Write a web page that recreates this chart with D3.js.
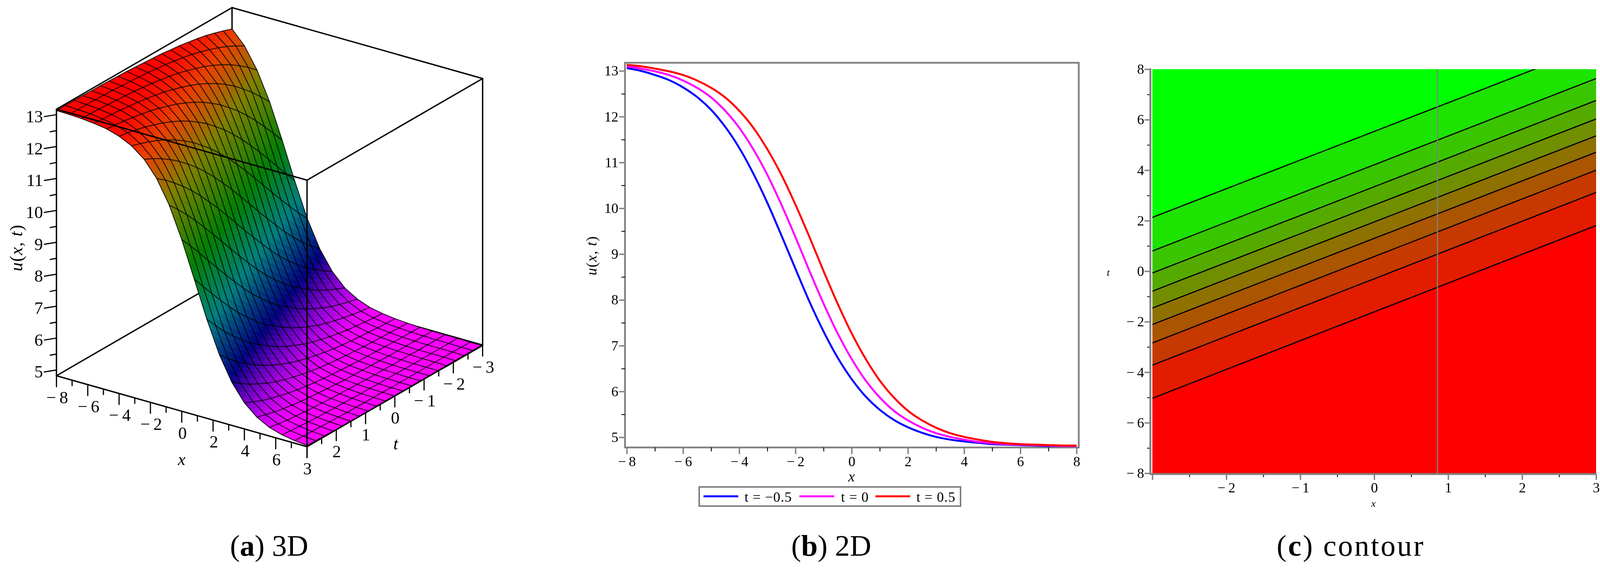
<!DOCTYPE html>
<html>
<head>
<meta charset="utf-8">
<script src="https://d3js.org/d3.v7.min.js"></script>
<style>
    html, body { margin: 0; padding: 0; background: #fff; }
    svg { display: block; filter: blur(0.6px); }
    text { font-family: "Liberation Serif", serif; fill: #000; }
    .axis text { font-family: "Liberation Serif", serif; fill: #000; }
    .i { font-style: italic; }
    .up { font-style: normal; }
</style>
</head>
<body>
<svg id="fig" width="4113" height="1456"></svg>
<script>
// --- panel a: surface, one profile read along x, each t row is the same profile moved along
var gridX = [-8,-7.2,-6.4,-5.6,-4.8,-4,-3.2,-2.4,-1.6,-0.8,0,0.8,1.6,2.4,3.2,4,4.8,5.6,6.4,7.2,8];
var gridT = [-3,-2.7,-2.4,-2.1,-1.8,-1.5,-1.2,-0.9,-0.6,-0.3,0,0.3,0.6,0.9,1.2,1.5,1.8,2.1,2.4,2.7,3];
var surfaceProfile = [
    13.13,13.13,13.13,13.12,13.11,13.11,13.10,13.09,13.08,13.06,
    13.04,13.02,13.00,12.96,12.93,12.88,12.83,12.77,12.69,12.60,
    12.50,12.38,12.24,12.08,11.89,11.68,11.43,11.17,10.87,10.55,
    10.20,9.84,9.46,9.07,8.68,8.30,7.93,7.57,7.23,6.93,
    6.65,6.39,6.17,5.97,5.79,5.64,5.51,5.39,5.30,5.22,
    5.15,5.09,5.04,5.00,4.97,4.94,4.92,4.90,4.88,4.87,
    4.86,4.85,4.84,4.83,4.83,4.82,4.82,4.82,4.81,4.81,
    4.81,4.81,4.81,4.81,4.81,4.81,4.80,4.80,4.80,4.80,4.80];
var surfaceColorU = [4.8,5.0,5.5,6.3,7.8,9.4,11.3,12.4,13.0];
var surfaceColors = ["#ff00ff","#f000ff","#9000d8","#000080","#008080","#008000","#808000","#e84000","#ff0000"];
var xMajor3d = [-8,-6,-4,-2,0,2,4,6,8];
var xMinor3d = [-7,-5,-3,-1,1,3,5,7];
var xLabels3d = [-8,-6,-4,-2,0,2,4,6];
var tMajor3d = [-3,-2,-1,0,1,2,3];
var tMinor3d = [-2.5,-1.5,-0.5,0.5,1.5,2.5];
var uMajor3d = [5,6,7,8,9,10,11,12,13];
var uMinor3d = [5.5,6.5,7.5,8.5,9.5,10.5,11.5,12.5];

var curveX = [-8,-7.5,-7,-6.5,-6,-5.5,-5,-4.5,-4,-3.5,-3,-2.5,-2,-1.5,-1,-0.5,0,0.5,1,1.5,2,2.5,3,3.5,4,4.5,5,5.5,6,6.5,7,7.5,8];
var uBlue = [13.06,13.00,12.91,12.80,12.64,12.43,12.15,11.78,11.32,10.76,10.12,9.41,8.68,7.96,7.31,6.74,
    6.27,5.89,5.60,5.38,5.22,5.10,5.01,4.95,4.91,4.88,4.85,4.84,4.83,4.82,4.81,4.81,4.81];
var uMagenta = [13.10,13.05,12.99,12.91,12.79,12.63,12.42,12.13,11.76,11.29,10.73,10.08,9.37,8.63,7.92,7.27,
    6.71,6.24,5.87,5.58,5.37,5.21,5.09,5.01,4.95,4.90,4.87,4.85,4.84,4.83,4.82,4.81,4.81];
var uRed = [13.13,13.10,13.05,12.99,12.91,12.79,12.63,12.42,12.13,11.76,11.29,10.73,10.08,9.37,8.63,7.92,
    7.27,6.71,6.24,5.87,5.58,5.37,5.21,5.09,5.01,4.95,4.90,4.87,4.85,4.84,4.83,4.82,4.82];
var curveColors = ["#0000ff","#ff00ff","#ff0000"];
var curveNames = ["t = \u22120.5","t = 0","t = 0.5"];
var xMajor2d = [-8,-6,-4,-2,0,2,4,6,8];
var xMinor2d = [-7,-5,-3,-1,1,3,5,7];
var uMajor2d = [5,6,7,8,9,10,11,12,13];
var uMinor2d = [5.5,6.5,7.5,8.5,9.5,10.5,11.5,12.5];

// --- panel c: contour lines, t where each one meets x=-3 and x=3
var contourLeft = [2.13,0.80,-0.07,-0.79,-1.46,-2.11,-2.84,-3.72,-5.03];
var contourRight = [8.94,7.63,6.76,6.03,5.36,4.71,4.00,3.12,1.81];
var cursorX = 0.855;
var xMajorC = [-3,-2,-1,0,1,2,3];
var xMinorC = [-2.5,-1.5,-0.5,0.5,1.5,2.5];
var tMajorC = [-8,-6,-4,-2,0,2,4,6,8];
var tMinorC = [-7,-5,-3,-1,1,3,5,7];

var svg = d3.select("#fig");
svg.append("rect").attr("width", 4113).attr("height", 1456).attr("fill", "#fff");

function fmt(d) { return d < 0 ? "\u2212\u2009" + (-d) : String(d); }

// u(x, t) with upright brackets, like the original
function funcLabel(sel) {
    sel.append("tspan").attr("class", "i").text("u");
    sel.append("tspan").attr("class", "up").text("(");
    sel.append("tspan").attr("class", "i").text("x");
    sel.append("tspan").attr("class", "up").text(", ");
    sel.append("tspan").attr("class", "i").text("t");
    sel.append("tspan").attr("class", "up").text(")");
}

// captions
var captions = [
    {x: 689, bold: "a", rest: " 3D", ls: 0},
    {x: 2128, bold: "b", rest: " 2D", ls: 0},
    {x: 3458, bold: "c", rest: " contour", ls: 4}
];
captions.forEach(function(c) {
    var t = svg.append("text").attr("x", c.x).attr("y", 1422).attr("text-anchor", "middle")
        .style("font-size", "76px").style("letter-spacing", c.ls + "px");
    t.append("tspan").text("(");
    t.append("tspan").style("font-weight", "bold").text(c.bold);
    t.append("tspan").text(")" + c.rest);
});

// ---------------- panel a ----------------
var a = svg.append("g");
var xSx = d3.scaleLinear([-8, 8], [144.5, 786]);
var xSy = d3.scaleLinear([-8, 8], [0, 181.5]);
var tSx = d3.scaleLinear([3, -3], [0, 449.5]);
var tSy = d3.scaleLinear([3, -3], [961.5, 701.5]);
var uSy = d3.scaleLinear([4.82, 13.17], [0, -682]);

function proj(x, t, u) { return [xSx(x) + tSx(t), xSy(x) + tSy(t) + uSy(u)]; }
function segment(g, p, q, w) {
    g.append("line").attr("x1", p[0]).attr("y1", p[1]).attr("x2", q[0]).attr("y2", q[1])
        .attr("stroke", "#000").attr("stroke-width", w).attr("stroke-linecap", "round");
}
var uLo = 4.82, uHi = 13.17;

// back edges go under the surface
segment(a, proj(-8, 3, uLo), proj(-8, -3, uLo), 3.5);
segment(a, proj(-8, -3, uLo), proj(8, -3, uLo), 3.5);
segment(a, proj(-8, -3, uLo), proj(-8, -3, uHi), 3.5);

var color = d3.scaleLinear().domain(surfaceColorU).range(surfaceColors)
    .interpolate(d3.interpolateRgb).clamp(true);

function nodeU(i, j) { return surfaceProfile[3 * i - (j - 10) + 10]; }

// paint back to front, each cell split up so the colour runs smoothly
var surf = a.append("g");
var sub = 4;
for (var i = 0; i < gridX.length - 1; i++) {
    for (var j = 0; j < gridT.length - 1; j++) {
        var u00 = nodeU(i, j), u10 = nodeU(i + 1, j), u01 = nodeU(i, j + 1), u11 = nodeU(i + 1, j + 1);
        var bil = function(p, q) {
            return u00 * (1 - p) * (1 - q) + u10 * p * (1 - q) + u01 * (1 - p) * q + u11 * p * q;
        };
        var pt = function(p, q) {
            return proj(gridX[i] + p * (gridX[i + 1] - gridX[i]), gridT[j] + q * (gridT[j + 1] - gridT[j]), bil(p, q));
        };
        for (var m = 0; m < sub; m++) {
            for (var n = 0; n < sub; n++) {
                var p0 = m / sub, p1 = (m + 1) / sub, q0 = n / sub, q1 = (n + 1) / sub;
                var c = color(bil((p0 + p1) / 2, (q0 + q1) / 2));
                surf.append("path")
                    .attr("d", "M" + [pt(p0, q0), pt(p1, q0), pt(p1, q1), pt(p0, q1)].join("L") + "Z")
                    .attr("fill", c).attr("stroke", c).attr("stroke-width", 0.8);
            }
        }
    }
}
// mesh
var gridLine = d3.line();
gridT.forEach(function(t, j) {
    surf.append("path").attr("d", gridLine(gridX.map(function(x, i) { return proj(x, t, nodeU(i, j)); })))
        .attr("fill", "none").attr("stroke", "#000").attr("stroke-opacity", 0.75).attr("stroke-width", 2.5);
});
gridX.forEach(function(x, i) {
    surf.append("path").attr("d", gridLine(gridT.map(function(t, j) { return proj(x, t, nodeU(i, j)); })))
        .attr("fill", "none").attr("stroke", "#000").attr("stroke-opacity", 0.75).attr("stroke-width", 2.5);
});

// front edges
segment(a, proj(-8, 3, uLo), proj(-8, 3, uHi), 3.5);
segment(a, proj(8, 3, uLo), proj(8, 3, uHi), 3.5);
segment(a, proj(8, -3, uLo), proj(8, -3, uHi), 3.5);
segment(a, proj(-8, 3, uHi), proj(8, 3, uHi), 3.5);
segment(a, proj(8, 3, uHi), proj(8, -3, uHi), 3.5);
segment(a, proj(-8, 3, uHi), proj(-8, -3, uHi), 3.5);
segment(a, proj(-8, -3, uHi), proj(8, -3, uHi), 3.5);
segment(a, proj(-8, 3, uLo), proj(8, 3, uLo), 3.5);
segment(a, proj(8, 3, uLo), proj(8, -3, uLo), 3.5);

// ticks on the box
function downTick(p, len) { segment(a, p, [p[0], p[1] + len], 3); }
xMajor3d.forEach(function(d) { downTick(proj(d, 3, uLo), 28); });
xMinor3d.forEach(function(d) { downTick(proj(d, 3, uLo), 14); });
tMajor3d.forEach(function(d) { downTick(proj(8, d, uLo), 28); });
tMinor3d.forEach(function(d) { downTick(proj(8, d, uLo), 14); });
uMajor3d.forEach(function(d) { var p = proj(-8, 3, d); segment(a, p, [p[0] - 31, p[1] + 5], 3); });
uMinor3d.forEach(function(d) { var p = proj(-8, 3, d); segment(a, p, [p[0] - 16, p[1] + 3], 3); });

function label3d(x, y, s, anchor) {
    return a.append("text").attr("x", x).attr("y", y).attr("text-anchor", anchor || "middle")
        .attr("dominant-baseline", "central").style("font-size", "44px").text(s);
}
xLabels3d.forEach(function(d) { var p = proj(d, 3, uLo); label3d(p[0] + 2, p[1] + 56, fmt(d)); });
tMajor3d.forEach(function(d) { var p = proj(8, d, uLo); label3d(p[0] + (d < 0 ? 2 : 1), p[1] + 56, fmt(d)); });
uMajor3d.forEach(function(d) { var p = proj(-8, 3, d); label3d(110, p[1] + 5, d, "end"); });
label3d(465, 1175, "x").attr("class", "i");
label3d(1013, 1135, "t").attr("class", "i");
label3d(0, 0, "").style("font-size", "46px").style("letter-spacing", "1.5px")
    .attr("transform", "translate(41,634) rotate(-90)").call(funcLabel);

// ---------------- panel b ----------------
var b = svg.append("g");
var xB = d3.scaleLinear([-8, 8], [1604.5, 2756]);
var yB = d3.scaleLinear([5, 13], [1119, 181.3]);

function styleAxis(g, major, size) {
    g.selectAll(".domain").remove();
    g.selectAll(".tick line").attr("stroke", major ? "#808080" : "#000").attr("stroke-width", major ? 3.5 : 2.2);
    g.selectAll("text").style("font-size", size + "px");
}
b.append("rect").attr("x", 1600).attr("y", 160.6).attr("width", 1161.6).attr("height", 984.4)
    .attr("fill", "none").attr("stroke", "#808080").attr("stroke-width", 4.5);

b.append("g").attr("transform", "translate(0,1145)").attr("class", "axis")
    .call(d3.axisBottom(xB).tickValues(xMajor2d).tickFormat(fmt).tickSize(17).tickPadding(5))
    .call(styleAxis, true, 36);
b.append("g").attr("transform", "translate(0,1145)").attr("class", "axis")
    .call(d3.axisBottom(xB).tickValues(xMinor2d).tickFormat("").tickSize(10))
    .call(styleAxis, false, 36);
b.append("g").attr("transform", "translate(1600,0)").attr("class", "axis")
    .call(d3.axisLeft(yB).tickValues(uMajor2d).tickFormat(fmt).tickSize(15).tickPadding(2))
    .call(styleAxis, true, 36);
b.append("g").attr("transform", "translate(1600,0)").attr("class", "axis")
    .call(d3.axisLeft(yB).tickValues(uMinor2d).tickFormat("").tickSize(9))
    .call(styleAxis, false, 36);

var curveLine = d3.line().x(function(d) { return xB(d[0]); }).y(function(d) { return yB(d[1]); })
    .curve(d3.curveCatmullRom.alpha(0.5));
[uBlue, uMagenta, uRed].forEach(function(vals, k) {
    b.append("path").attr("d", curveLine(d3.zip(curveX, vals)))
        .attr("fill", "none").attr("stroke", curveColors[k]).attr("stroke-width", 5);
});

b.append("text").attr("class", "i").attr("x", 2180).attr("y", 1219).attr("text-anchor", "middle")
    .attr("dominant-baseline", "central").style("font-size", "38px").text("x");
b.append("text").attr("text-anchor", "middle").attr("dominant-baseline", "central")
    .attr("transform", "translate(1514,654) rotate(-90)").style("font-size", "38px")
    .style("letter-spacing", "1.5px").call(funcLabel);

// legend
b.append("rect").attr("x", 1790).attr("y", 1246).attr("width", 669).attr("height", 49)
    .attr("fill", "#fff").attr("stroke", "#808080").attr("stroke-width", 4);
var legendLineX = [1801, 2046.5, 2241];
var legendTextX = [1906, 2153, 2346];
curveNames.forEach(function(name, k) {
    b.append("line").attr("x1", legendLineX[k]).attr("x2", legendLineX[k] + 89).attr("y1", 1270).attr("y2", 1270)
        .attr("stroke", curveColors[k]).attr("stroke-width", 5);
    b.append("text").attr("x", legendTextX[k]).attr("y", 1284).style("font-size", "36px")
        .style("letter-spacing", "1px").text(name);
});

// ---------------- panel c ----------------
var cp = svg.append("g");
var xC = d3.scaleLinear([-3, 3], [2950, 4086]);
var yC = d3.scaleLinear([-8, 8], [1211, 177]);

svg.append("defs").append("clipPath").attr("id", "plotC").append("rect")
    .attr("x", 2950).attr("y", 177).attr("width", 1136).attr("height", 1034);

var bandColors = d3.quantize(d3.interpolateRgb("#00ff00", "#ff0000"), contourLeft.length + 1);
var bandArea = d3.area().x(function(d) { return xC(d[0]); })
    .y0(function(d) { return yC(d[2]); }).y1(function(d) { return yC(d[1]); });
var plotC = cp.append("g").attr("clip-path", "url(#plotC)");
bandColors.forEach(function(col, k) {
    var topL = k === 0 ? 8 : contourLeft[k - 1], topR = k === 0 ? 8 : contourRight[k - 1];
    var botL = k === contourLeft.length ? -8 : contourLeft[k], botR = k === contourLeft.length ? -8 : contourRight[k];
    plotC.append("path").attr("d", bandArea([[-3, topL, botL], [3, topR, botR]])).attr("fill", col);
});
var contourLine = d3.line().x(function(d) { return xC(d[0]); }).y(function(d) { return yC(d[1]); });
contourLeft.forEach(function(v, k) {
    plotC.append("path").attr("d", contourLine([[-3, v], [3, contourRight[k]]]))
        .attr("fill", "none").attr("stroke", "#000").attr("stroke-width", 3);
});
cp.append("line").attr("x1", xC(cursorX)).attr("x2", xC(cursorX)).attr("y1", 177).attr("y2", 1211)
    .attr("stroke", "#808080").attr("stroke-width", 3);

// axes of c
cp.append("g").attr("transform", "translate(0,1213)").attr("class", "axis")
    .call(d3.axisBottom(xC).tickValues(xMajorC).tickFormat(function(d) { return d === -3 ? "" : fmt(d); }).tickSize(15).tickPadding(6))
    .call(styleAxis, true, 36);
cp.append("g").attr("transform", "translate(0,1213)").attr("class", "axis")
    .call(d3.axisBottom(xC).tickValues(xMinorC).tickFormat("").tickSize(8))
    .call(styleAxis, false, 36);
cp.append("g").attr("transform", "translate(2945,0)").attr("class", "axis")
    .call(d3.axisLeft(yC).tickValues(tMajorC).tickFormat(fmt).tickSize(15).tickPadding(1))
    .call(styleAxis, true, 36);
cp.append("g").attr("transform", "translate(2945,0)").attr("class", "axis")
    .call(d3.axisLeft(yC).tickValues(tMinorC).tickFormat("").tickSize(8))
    .call(styleAxis, false, 36);
cp.append("line").attr("x1", 2945).attr("x2", 2945).attr("y1", 175).attr("y2", 1215)
    .attr("stroke", "#808080").attr("stroke-width", 5);
cp.append("line").attr("x1", 2945).attr("x2", 4087).attr("y1", 1213).attr("y2", 1213)
    .attr("stroke", "#808080").attr("stroke-width", 5);

cp.append("text").attr("class", "i").attr("x", 3516).attr("y", 1288).attr("text-anchor", "middle")
    .attr("dominant-baseline", "central").style("font-size", "26px").text("x");
cp.append("text").attr("class", "i").attr("x", 2837).attr("y", 697).attr("text-anchor", "middle")
    .attr("dominant-baseline", "central").style("font-size", "26px").text("t");
</script>
</body>
</html>
